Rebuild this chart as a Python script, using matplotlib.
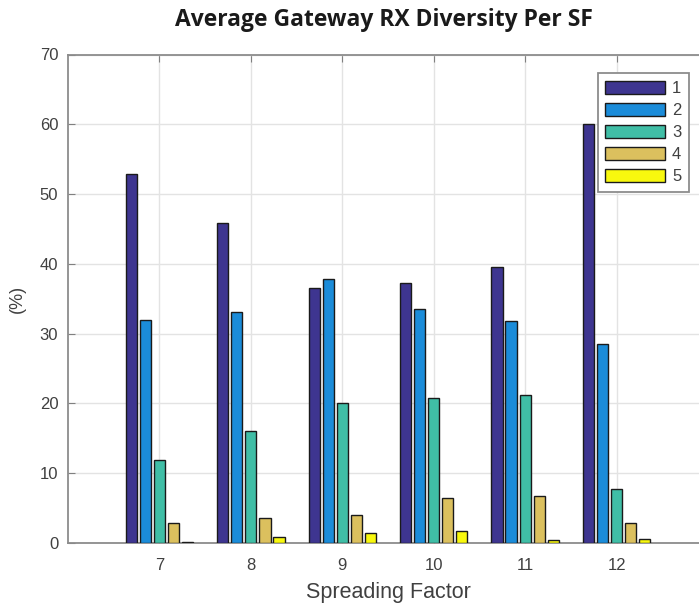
import numpy as np
import matplotlib
matplotlib.use('Agg')
import matplotlib.pyplot as plt

# data
sf = [7, 8, 9, 10, 11, 12]
div_1 = [52.9, 45.9, 36.5, 37.2, 39.5, 60.1]
div_2 = [31.9, 33.1, 37.8, 33.6, 31.8, 28.5]
div_3 = [11.9, 16.1, 20.1, 20.8, 21.2, 7.7]
div_4 = [2.9, 3.6, 4.0, 6.4, 6.8, 2.9]
div_5 = [0.15, 0.9, 1.4, 1.7, 0.4, 0.6]
series = [div_1, div_2, div_3, div_4, div_5]
labels = ['1', '2', '3', '4', '5']
colors = ['#3e3590', '#1b8cd9', '#40bea6', '#dbc05e', '#f8f80e']

plt.rcParams['font.family'] = ['Liberation Sans', 'DejaVu Sans']

fig = plt.figure(figsize=(6.99, 6.06), dpi=100)
ax = fig.add_axes([68 / 699, 63 / 606, 640 / 699, 488.5 / 606])

n = len(series)
group_w = n / (n + 1.5)
step = group_w / n
bar_w = 0.8 * step
x = np.array(sf)
for i, vals in enumerate(series):
    off = (i - (n - 1) / 2) * step
    ax.bar(x + off, vals, width=bar_w, color=colors[i], edgecolor='#1a1a1a',
           linewidth=1.0, label=labels[i], zorder=3)

ax.set_xlim(6, 13)
ax.set_ylim(0, 70)
ax.set_xticks(sf)
ax.set_yticks(np.arange(0, 71, 10))
ax.grid(True, color='#e3e3e3', linewidth=1.0, zorder=0)
ax.tick_params(direction='in', length=5, color='#808080', labelcolor='#404040',
               labelsize=12, top=True, right=True)
ax.tick_params(axis='x', pad=11)
ax.tick_params(axis='y', pad=7)
for s in ax.spines.values():
    s.set_color('#8c8c8c')
    s.set_linewidth(1.3)

ax.set_xlabel('Spreading Factor', fontsize=15.5, color='#404040', labelpad=6)
ax.set_ylabel('(%)', fontsize=13, color='#404040', labelpad=10)
fig.text(384 / 699, 1 - 20 / 606, 'Average Gateway RX Diversity Per SF',
         ha='center', va='center', fontsize=16.5, fontweight='bold',
         family=['Open Sans', 'DejaVu Sans'], color='#1a1a1a')

leg = fig.legend(loc='upper right', bbox_to_anchor=(689 / 699, 1 - 73 / 606),
                 borderaxespad=0, fontsize=12, handlelength=3.6, handleheight=0.9,
                 labelspacing=0.38, handletextpad=0.4, borderpad=0.45,
                 fancybox=False, framealpha=1, edgecolor='#8c8c8c')
leg.get_frame().set_linewidth(1.3)
for t in leg.get_texts():
    t.set_color('#404040')

fig.savefig('out.png', dpi=100)
